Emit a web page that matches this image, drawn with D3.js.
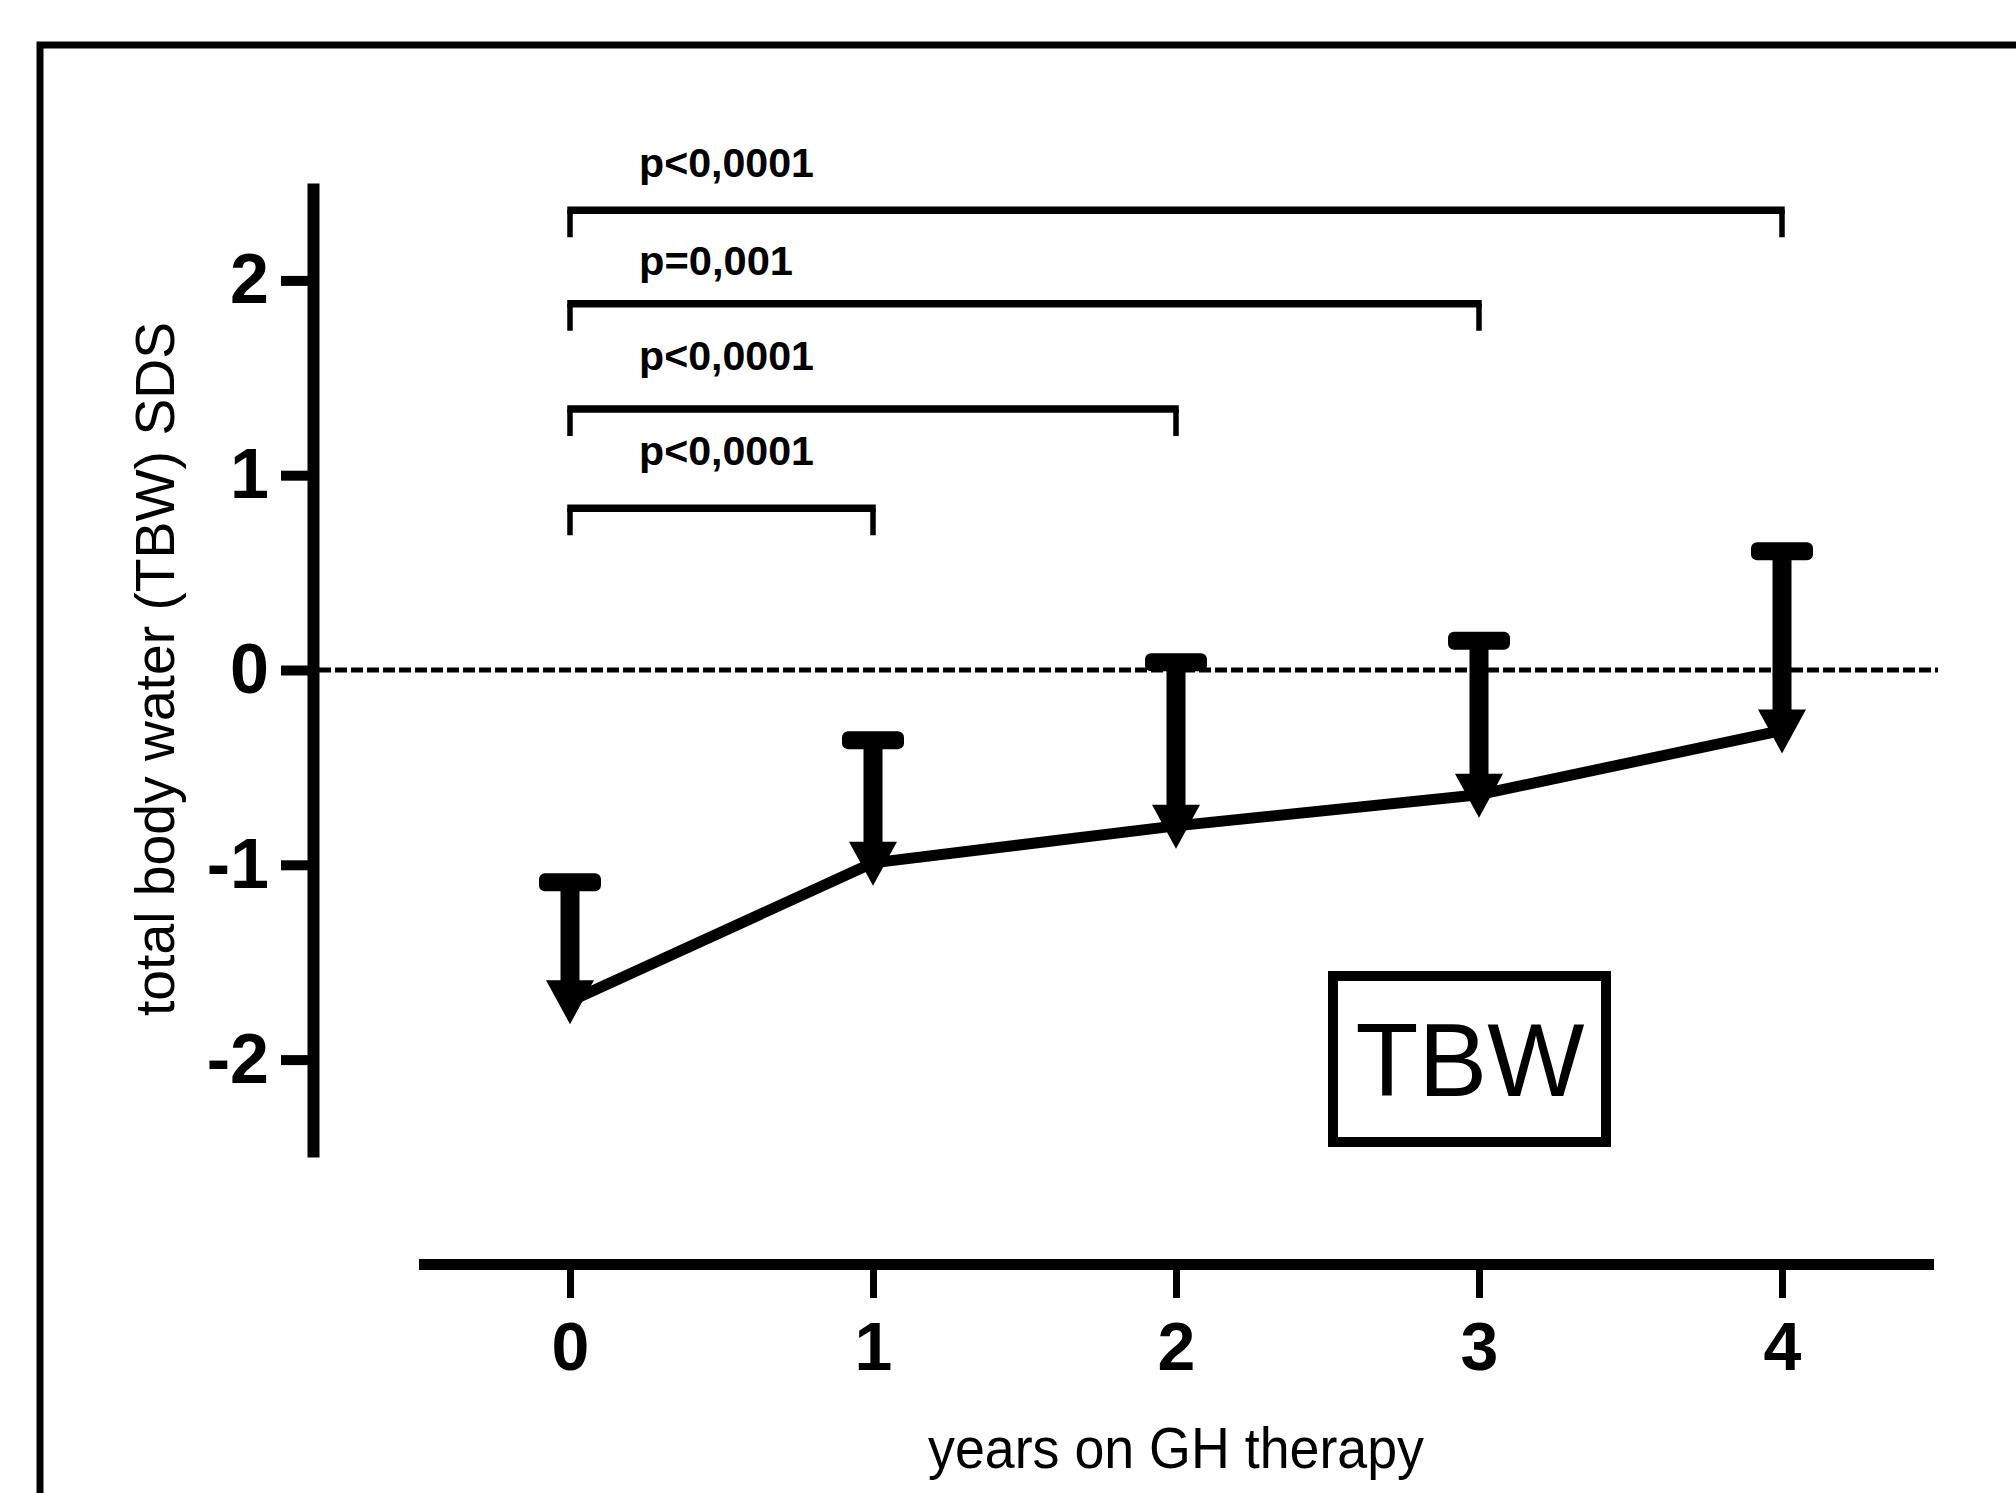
<!DOCTYPE html>
<html>
<head>
<meta charset="utf-8">
<script src="https://cdn.jsdelivr.net/npm/d3@7"></script>
<style>
  html, body { margin: 0; padding: 0; background: #fff; }
  svg { display: block; }
  text { font-family: "Liberation Sans", Arial, sans-serif; fill: #000; }
</style>
</head>
<body>
<svg id="chart" width="2016" height="1493"></svg>
<script>
// ---- data ----
const years = [0, 1, 2, 3, 4];
const means = [-1.70, -0.99, -0.80, -0.64, -0.31];
const upperSD = [-1.09, -0.36, 0.04, 0.15, 0.61];
const yTicks = [-2, -1, 0, 1, 2];
const bracketFrom = [0, 0, 0, 0];
const bracketTo = [1, 2, 3, 4];
const bracketLevel = [0.83, 1.34, 1.88, 2.36];
const labelLevel = [1.05, 1.54, 2.03, 2.53];
const pLabels = ["p<0,0001", "p<0,0001", "p=0,001", "p<0,0001"];
const xTitle = "years on GH therapy";
const yTitle = "total body water (TBW) SDS";
const boxLabel = "TBW";

// ---- layout ----
const svg = d3.select("#chart");
const x = d3.scaleLinear().domain([-0.5, 4.5]).range([418.5, 1933.5]);
const y = d3.scaleLinear().domain([-2.5, 2.5]).range([1157, 183]);
const yAxisX = 313;
const xAxisY = 1264;

// outer frame
svg.append("rect")
  .attr("x", 40).attr("y", 45).attr("width", 2100).attr("height", 1600)
  .attr("fill", "none").attr("stroke", "#000").attr("stroke-width", 7);

// y axis
const yAxis = svg.append("g")
  .attr("transform", `translate(${yAxisX},0)`)
  .call(d3.axisLeft(y).tickValues(yTicks).tickSize(32).tickSizeOuter(0).tickPadding(12)
        .tickFormat(d3.format("d")));
yAxis.select(".domain").attr("stroke", "#000").attr("stroke-width", 12);
yAxis.selectAll(".tick line").attr("stroke", "#000").attr("stroke-width", 10);
yAxis.selectAll(".tick text")
  .attr("font-size", 70).attr("font-weight", "bold")
  .style("font-family", "'Liberation Sans', Arial, sans-serif")
  .text(d => d < 0 ? "-" + Math.abs(d) : d);

// x axis
const xAxis = svg.append("g")
  .attr("transform", `translate(0,${xAxisY})`)
  .call(d3.axisBottom(x).tickValues(years).tickSize(34).tickSizeOuter(0).tickPadding(24)
        .tickFormat(d3.format("d")));
xAxis.select(".domain").attr("stroke", "#000").attr("stroke-width", 11);
xAxis.selectAll(".tick line").attr("stroke", "#000").attr("stroke-width", 7);
xAxis.selectAll(".tick text")
  .attr("font-size", 68).attr("font-weight", "bold")
  .style("font-family", "'Liberation Sans', Arial, sans-serif");

// axis titles
svg.append("text")
  .attr("x", x(2)).attr("y", 1468)
  .attr("text-anchor", "middle")
  .attr("font-size", 58)
  .attr("textLength", 496).attr("lengthAdjust", "spacingAndGlyphs")
  .text(xTitle);

svg.append("text")
  .attr("transform", `translate(174,${y(0) - 1}) rotate(-90)`)
  .attr("text-anchor", "middle")
  .attr("font-size", 56)
  .attr("textLength", 694).attr("lengthAdjust", "spacingAndGlyphs")
  .text(yTitle);

// zero reference line
svg.append("line")
  .attr("x1", yAxisX + 6).attr("x2", 1938)
  .attr("y1", y(0)).attr("y2", y(0))
  .attr("stroke", "#000").attr("stroke-width", 5)
  .attr("stroke-dasharray", "12,4");

// significance brackets
const legLen = 27;
const br = svg.append("g");
bracketLevel.forEach((lv, i) => {
  const x1 = x(bracketFrom[i]), x2 = x(bracketTo[i]), yy = y(lv);
  br.append("path")
    .attr("d", `M${x1},${yy + legLen}V${yy}M${x2},${yy}V${yy + legLen}`)
    .attr("fill", "none").attr("stroke", "#000").attr("stroke-width", 5.5);
  br.append("line")
    .attr("x1", x1 - 2.75).attr("x2", x2 + 2.75)
    .attr("y1", yy).attr("y2", yy)
    .attr("stroke", "#000").attr("stroke-width", 7.5);
  br.append("text")
    .attr("x", 639).attr("y", y(labelLevel[i]))
    .attr("font-size", 40).attr("font-weight", "bold")
    .attr("textLength", pLabels[i].length === 8 ? 175 : 154)
    .attr("lengthAdjust", "spacingAndGlyphs")
    .text(pLabels[i]);
});

// data
const pts = years.map((yr, i) => ({ yr, m: means[i], up: upperSD[i] }));

// error bars
const eb = svg.append("g");
eb.selectAll("line.stem").data(pts).join("line")
  .attr("class", "stem")
  .attr("x1", d => x(d.yr)).attr("x2", d => x(d.yr))
  .attr("y1", d => y(d.m)).attr("y2", d => y(d.up))
  .attr("stroke", "#000").attr("stroke-width", 19);
eb.selectAll("rect.cap").data(pts).join("rect")
  .attr("class", "cap")
  .attr("x", d => x(d.yr) - 31).attr("y", d => y(d.up) - 9)
  .attr("width", 62).attr("height", 18).attr("rx", 6)
  .attr("fill", "#000");

// connecting line
svg.append("path")
  .datum(pts)
  .attr("d", d3.line().x(d => x(d.yr)).y(d => y(d.m)))
  .attr("fill", "none").attr("stroke", "#000").attr("stroke-width", 11)
  .attr("stroke-linejoin", "round");

// triangle markers (pointing down)
svg.append("g").selectAll("path").data(pts).join("path")
  .attr("d", d => {
    const cx = x(d.yr), cy = y(d.m);
    return `M${cx - 24},${cy - 21}L${cx + 24},${cy - 21}L${cx},${cy + 23}Z`;
  })
  .attr("fill", "#000");

// TBW label box
svg.append("rect")
  .attr("x", 1333).attr("y", 976).attr("width", 273).attr("height", 166)
  .attr("fill", "#fff").attr("stroke", "#000").attr("stroke-width", 10);
svg.append("text")
  .attr("x", 1470).attr("y", 1096)
  .attr("text-anchor", "middle")
  .attr("font-size", 103)
  .text(boxLabel);
</script>
</body>
</html>
